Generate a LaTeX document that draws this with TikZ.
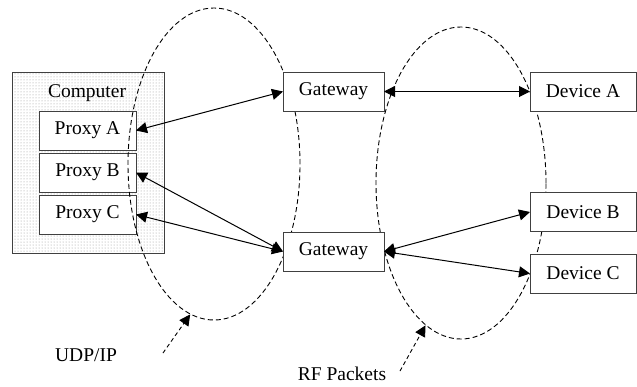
\documentclass[tikz,border=0pt]{standalone}
\usepackage{fontspec}
\setmainfont{Liberation Serif}
\usepackage{tikz}
\usetikzlibrary{shapes.geometric,arrows.meta,positioning,patterns}

\begin{document}
\begin{tikzpicture}[
        x=1pt, y=-1pt,
        every node/.style={font=\fontsize{19.5}{22}\selectfont},
        hostbox/.style={rectangle, draw=black!75, line width=1pt, pattern=dots, pattern color=gray!85, minimum width=152pt, minimum height=181pt, inner sep=0pt, outer sep=0pt},
        proxybox/.style={rectangle, draw=black!75, fill=white, line width=1pt, minimum width=97pt, minimum height=39pt, inner sep=0pt, outer sep=0pt},
        gatebox/.style={rectangle, draw=black!75, fill=white, line width=1pt, minimum width=101pt, minimum height=39pt, inner sep=0pt, outer sep=0pt},
        devbox/.style={rectangle, draw=black!75, fill=white, line width=1pt, minimum width=106pt, minimum height=39pt, inner sep=0pt, outer sep=0pt},
        zone/.style={ellipse, draw, dashed, dash pattern=on 5pt off 3pt, line width=0.9pt, inner sep=0pt},
        link/.style={draw, {Triangle[length=11pt,width=11pt]}-{Triangle[length=11pt,width=11pt]}, line width=1pt},
        hint/.style={draw, dashed, dash pattern=on 4pt off 3pt, -{Triangle[length=11pt,width=11pt]}, line width=0.9pt}
    ]
    \useasboundingbox (0,0) rectangle (637,386);

    % Computer with its proxies
    \node [hostbox] (computer) at (88,162.5) {};
    \node (comptitle) at (87,93) {Computer};
    \node [proxybox] (proxyA) at (87.5,130.5) {Proxy A};
    \node [proxybox, below=3pt of proxyA] (proxyB) {Proxy B};
    \node [proxybox, below=3pt of proxyB] (proxyC) {Proxy C};

    % Network zones
    \node [zone, minimum width=172pt, minimum height=312pt] (udp) at (214,164) {};
    \node [zone, minimum width=170pt, minimum height=312pt] (rf) at (461,183) {};

    % Gateways
    \node [gatebox] (gwTop) at (333.5,91.5) {Gateway};
    \node [gatebox] (gwBot) at (333.5,251.5) {Gateway};

    % Devices
    \node [devbox] (devA) at (583,91.5) {Device A};
    \node [devbox] (devB) at (583,212) {Device B};
    \node [devbox] (devC) at (583,273.5) {Device C};

    % Connections
    \path [link] (proxyA.east) -- (gwTop.west);
    \path [link] (proxyB.east) -- (gwBot.west);
    \path [link] (proxyC.east) -- (gwBot.west);
    \path [link] (gwTop.east) -- (devA.west);
    \path [link] (gwBot.east) -- (devB.west);
    \path [link] (gwBot.east) -- (devC.west);

    % Zone labels
    \node (udplabel) at (86,355) {UDP/IP};
    \node (rflabel) at (342,374) {RF Packets};
    \coordinate (udptail) at (163,353);
    \coordinate (rftail) at (400,371);
    \path [hint] (udptail) -- (udp.261);
    \path [hint] (rftail) -- (rf.256);

\end{tikzpicture}
\end{document}
